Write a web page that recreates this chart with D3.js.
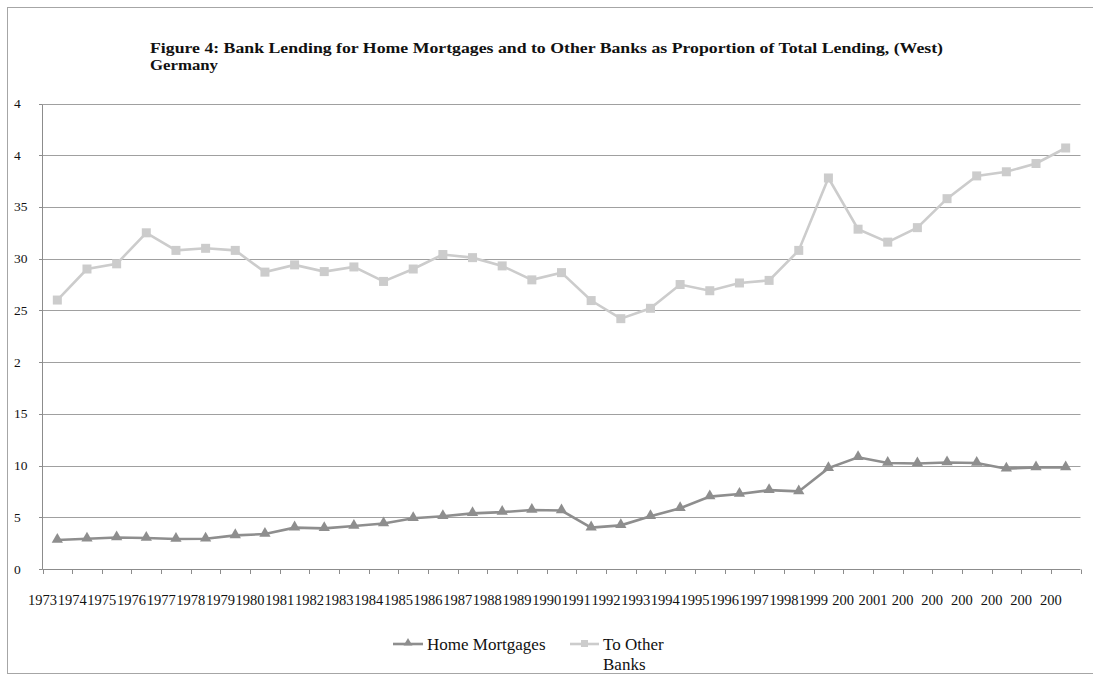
<!DOCTYPE html>
<html>
<head>
<meta charset="utf-8">
<script src="https://cdn.jsdelivr.net/npm/d3@7"></script>
<style>
  body { margin: 0; background: #fff; }
  svg { display: block; font-family: "Liberation Serif", serif; }
</style>
</head>
<body>
<svg width="1093" height="675"></svg>
<script>
var years = ["1973","1974","1975","1976","1977","1978","1979","1980","1981","1982","1983","1984","1985","1986","1987","1988","1989","1990","1991","1992","1993","1994","1995","1996","1997","1998","1999","2000","2001","2002","2003","2004","2005","2006","2007"];
// category labels as shown (truncated in the original)
var yearLabels = ["1973","1974","1975","1976","1977","1978","1979","1980","1981","1982","1983","1984","1985","1986","1987","1988","1989","1990","1991","1992","1993","1994","1995","1996","1997","1998","1999","200","2001","200","200","200","200","200","200"];
var homeMortgages = [2.8,2.93,3.05,3.0,2.9,2.93,3.25,3.38,4.0,3.93,4.15,4.4,4.9,5.1,5.38,5.5,5.7,5.65,4.0,4.22,5.1,5.87,7.0,7.25,7.62,7.5,9.75,10.8,10.25,10.2,10.3,10.25,9.7,9.82,9.82];
var otherBanks = [26.0,29.0,29.5,32.5,30.8,31.0,30.8,28.7,29.4,28.75,29.2,27.8,29.0,30.4,30.1,29.3,27.95,28.65,25.95,24.2,25.2,27.5,26.9,27.65,27.9,30.8,37.8,32.85,31.6,33.0,35.8,38.0,38.4,39.2,40.7];
var yTicks = [0,5,10,15,20,25,30,35,40,45];
var yTickLabels = ["0","5","10","15","2","25","30","35","4","4"];
var seriesNames = ["Home Mortgages", "To Other Banks"];

var svg = d3.select("svg");

// outer frame
svg.append("rect")
  .attr("x", 7.5).attr("y", 7.5)
  .attr("width", 1100).attr("height", 666)
  .attr("fill", "none")
  .attr("stroke", "#a6a6a6")
  .attr("stroke-width", 1);

// title
var title = svg.append("text")
  .attr("font-size", 15.5)
  .attr("font-weight", "bold")
  .attr("fill", "#111");
title.append("tspan").attr("x", 150).attr("y", 53)
  .attr("textLength", 793).attr("lengthAdjust", "spacingAndGlyphs")
  .text("Figure 4: Bank Lending for Home Mortgages and to Other Banks as Proportion of Total Lending, (West)");
title.append("tspan").attr("x", 150).attr("y", 70)
  .attr("textLength", 68).attr("lengthAdjust", "spacingAndGlyphs")
  .text("Germany");

var x = d3.scaleBand().domain(years).range([42.5, 1080.5]).padding(0);
var y = d3.scaleLinear().domain([0, 45]).range([569, 103.5]);

// gridlines
svg.append("g").selectAll("line")
  .data(yTicks.filter(function (d) { return d > 0; }))
  .enter().append("line")
  .attr("x1", 42.5).attr("x2", 1080.5)
  .attr("y1", function (d) { return Math.round(y(d)) + 0.5; })
  .attr("y2", function (d) { return Math.round(y(d)) + 0.5; })
  .attr("stroke", "#a0a0a0").attr("stroke-width", 1);

// y axis line and stubs
svg.append("line")
  .attr("x1", 42.5).attr("x2", 42.5)
  .attr("y1", Math.round(y(45)) + 0.5).attr("y2", Math.round(y(0)) + 0.5)
  .attr("stroke", "#8c8c8c");
svg.append("g").selectAll("line")
  .data(yTicks).enter().append("line")
  .attr("x1", 39).attr("x2", 42.5)
  .attr("y1", function (d) { return Math.round(y(d)) + 0.5; })
  .attr("y2", function (d) { return Math.round(y(d)) + 0.5; })
  .attr("stroke", "#8c8c8c");
svg.append("g").selectAll("text")
  .data(yTicks).enter().append("text")
  .attr("x", 14)
  .attr("y", function (d) { return y(d) + 4.5; })
  .attr("font-size", 13.5)
  .attr("fill", "#111")
  .text(function (d, i) { return yTickLabels[i]; });

// x axis line, ticks, labels
svg.append("line")
  .attr("x1", 42.5).attr("x2", 1080.5)
  .attr("y1", Math.round(y(0)) + 0.5).attr("y2", Math.round(y(0)) + 0.5)
  .attr("stroke", "#8c8c8c");
var tickPos = years.map(function (d) { return x(d); }).concat([x.range()[1]]);
svg.append("g").selectAll("line")
  .data(tickPos).enter().append("line")
  .attr("x1", function (d) { return Math.round(d) + 0.5; })
  .attr("x2", function (d) { return Math.round(d) + 0.5; })
  .attr("y1", Math.round(y(0)) + 0.5).attr("y2", Math.round(y(0)) + 5)
  .attr("stroke", "#8c8c8c");
svg.append("g").selectAll("text")
  .data(years).enter().append("text")
  .attr("x", function (d) { return x(d); })
  .attr("y", 605)
  .attr("text-anchor", "middle")
  .attr("font-size", 14.5)
  .attr("fill", "#111")
  .text(function (d, i) { return yearLabels[i]; });

var cx = function (d, i) { return x(years[i]) + x.bandwidth() / 2; };
var line = d3.line()
  .x(function (d, i) { return x(years[i]) + x.bandwidth() / 2; })
  .y(function (d) { return y(d); });

// To Other Banks
svg.append("path")
  .datum(otherBanks)
  .attr("d", line)
  .attr("fill", "none")
  .attr("stroke", "#cccccc")
  .attr("stroke-width", 2.6);
svg.append("g").selectAll("rect")
  .data(otherBanks).enter().append("rect")
  .attr("x", function (d, i) { return cx(d, i) - 4.5; })
  .attr("y", function (d) { return y(d) - 4.5; })
  .attr("width", 9).attr("height", 9)
  .attr("fill", "#cccccc");

// Home Mortgages
svg.append("path")
  .datum(homeMortgages)
  .attr("d", line)
  .attr("fill", "none")
  .attr("stroke", "#8e8e8e")
  .attr("stroke-width", 2.6);
var tri = d3.symbol().type(d3.symbolTriangle).size(55);
svg.append("g").selectAll("path")
  .data(homeMortgages).enter().append("path")
  .attr("d", tri)
  .attr("transform", function (d, i) { return "translate(" + cx(d, i) + "," + (y(d) - 0.5) + ")"; })
  .attr("fill", "#8e8e8e");

// legend
var lg = svg.append("g");
lg.append("line").attr("x1", 393).attr("x2", 423).attr("y1", 644).attr("y2", 644)
  .attr("stroke", "#8e8e8e").attr("stroke-width", 2.6);
lg.append("path").attr("d", d3.symbol().type(d3.symbolTriangle).size(34))
  .attr("transform", "translate(408,643)").attr("fill", "#8e8e8e");
lg.append("text").attr("x", 427).attr("y", 650).attr("font-size", 17).attr("fill", "#111")
  .text(seriesNames[0]);

lg.append("line").attr("x1", 570).attr("x2", 599).attr("y1", 644).attr("y2", 644)
  .attr("stroke", "#cccccc").attr("stroke-width", 2.6);
lg.append("rect").attr("x", 581).attr("y", 640).attr("width", 7).attr("height", 7)
  .attr("fill", "#cccccc");
var lt = lg.append("text").attr("font-size", 17).attr("fill", "#111");
lt.append("tspan").attr("x", 603).attr("y", 650).text("To Other");
lt.append("tspan").attr("x", 603).attr("y", 670).text("Banks");
</script>
</body>
</html>
